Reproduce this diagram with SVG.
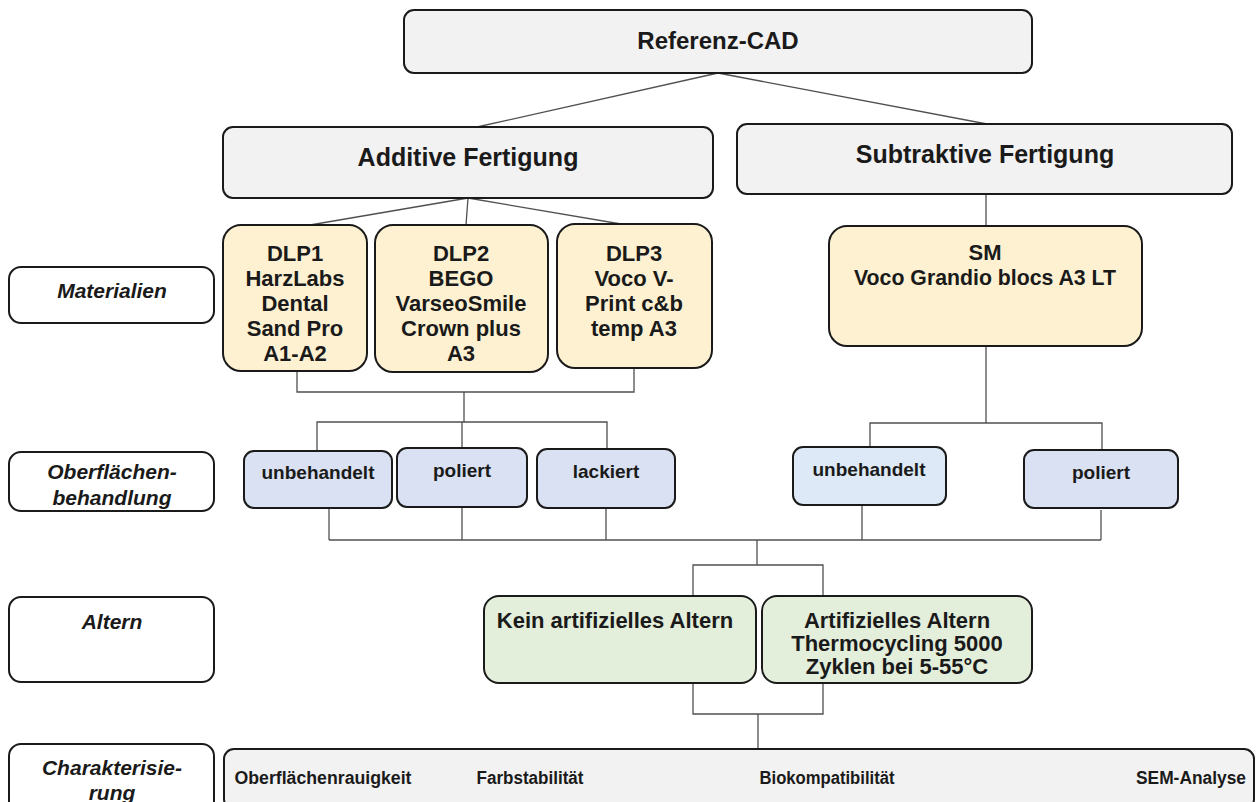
<svg xmlns="http://www.w3.org/2000/svg" width="1257" height="802" viewBox="0 0 1257 802">
<style>
.box{stroke:#1a1a1a;stroke-width:2}
.gray{fill:#f2f2f2}
.yel{fill:#fdf1d2}
.blue{fill:#d9e1f2}
.blue2{fill:#dde9f6}
.green{fill:#e3eedb}
.white{fill:#ffffff}
text{font-family:"Liberation Sans",Arial,sans-serif;font-weight:bold;fill:#1a1a1a;text-anchor:middle}
.lbl{font-style:italic;font-size:21px}
.mat{font-size:22px}
.surf{font-size:19px}
.age{font-size:22px}
.conn{stroke:#505050;stroke-width:1.3;fill:none}
</style>
<rect width="1257" height="802" fill="#ffffff"/>
<g id="connectors">
<line class="conn" x1="718" y1="73" x2="477" y2="127"/>
<line class="conn" x1="718" y1="73" x2="987" y2="124"/>
<line class="conn" x1="468" y1="198" x2="310" y2="225"/>
<line class="conn" x1="468" y1="198" x2="466" y2="225"/>
<line class="conn" x1="468" y1="198" x2="621" y2="224"/>
<line class="conn" x1="986" y1="194" x2="986" y2="226"/>
<polyline class="conn" points="297,371 297,392 634,392 634,368"/>
<line class="conn" x1="464" y1="392" x2="464" y2="422"/>
<polyline class="conn" points="317,451 317,422 607,422 607,449"/>
<line class="conn" x1="462" y1="422" x2="462" y2="448"/>
<line class="conn" x1="986" y1="346" x2="986" y2="423"/>
<polyline class="conn" points="870,447 870,423 1102,423 1102,450"/>
<line class="conn" x1="329" y1="508" x2="329" y2="540"/>
<line class="conn" x1="462" y1="507" x2="462" y2="540"/>
<line class="conn" x1="606" y1="508" x2="606" y2="540"/>
<line class="conn" x1="862" y1="505" x2="862" y2="540"/>
<line class="conn" x1="1101" y1="510" x2="1101" y2="540"/>
<line class="conn" x1="329" y1="540" x2="1101" y2="540"/>
<line class="conn" x1="757" y1="540" x2="757" y2="565"/>
<polyline class="conn" points="693,596 693,565 823,565 823,596"/>
<polyline class="conn" points="693,683 693,714 823,714 823,683"/>
<line class="conn" x1="758" y1="714" x2="758" y2="749"/>
</g>
<g id="referenz-cad">
<rect class="box gray" x="404" y="10" width="628" height="63" rx="10"/>
<text x="718" y="49" font-size="24">Referenz-CAD</text>
</g>
<g id="additive">
<rect class="box gray" x="223" y="127" width="490" height="71" rx="10"/>
<text x="468" y="166" font-size="25">Additive Fertigung</text>
</g>
<g id="subtraktive">
<rect class="box gray" x="737" y="124" width="495" height="70" rx="10"/>
<text x="985" y="163" font-size="25">Subtraktive Fertigung</text>
</g>
<g id="label-materialien">
<rect class="box white" x="9" y="267" width="205" height="56" rx="12"/>
<text class="lbl" x="112" y="298">Materialien</text>
</g>
<g id="label-oberflaeche">
<rect class="box white" x="9" y="452" width="205" height="59" rx="12"/>
<text class="lbl" x="112" y="479">Oberflächen-</text>
<text class="lbl" x="112" y="505">behandlung</text>
</g>
<g id="label-altern">
<rect class="box white" x="9" y="597" width="205" height="85" rx="12"/>
<text class="lbl" x="112" y="629">Altern</text>
</g>
<g id="label-charakterisierung">
<rect class="box white" x="9" y="744" width="205" height="70" rx="12"/>
<text class="lbl" x="112" y="775">Charakterisie-</text>
<text class="lbl" x="112" y="800">rung</text>
</g>
<g id="dlp1">
<rect class="box yel" x="223" y="225" width="144" height="146" rx="18"/>
<text class="mat" x="295" y="261">DLP1</text>
<text class="mat" x="295" y="286">HarzLabs</text>
<text class="mat" x="295" y="311">Dental</text>
<text class="mat" x="295" y="336">Sand Pro</text>
<text class="mat" x="295" y="361">A1-A2</text>
</g>
<g id="dlp2">
<rect class="box yel" x="375" y="225" width="173" height="147" rx="18"/>
<text class="mat" x="461" y="261">DLP2</text>
<text class="mat" x="461" y="286">BEGO</text>
<text class="mat" x="461" y="311">VarseoSmile</text>
<text class="mat" x="461" y="336">Crown plus</text>
<text class="mat" x="461" y="361">A3</text>
</g>
<g id="dlp3">
<rect class="box yel" x="557" y="224" width="155" height="144" rx="18"/>
<text class="mat" x="634" y="261">DLP3</text>
<text class="mat" x="634" y="286">Voco V-</text>
<text class="mat" x="634" y="311">Print c&amp;b</text>
<text class="mat" x="634" y="336">temp A3</text>
</g>
<g id="sm">
<rect class="box yel" x="829" y="226" width="313" height="120" rx="18"/>
<text class="mat" x="985" y="260">SM</text>
<text class="mat" x="985" y="285" textLength="262" lengthAdjust="spacingAndGlyphs">Voco Grandio blocs A3 LT</text>
</g>
<g id="add-unbehandelt">
<rect class="box blue" x="244" y="451" width="148" height="57" rx="10"/>
<text class="surf" x="318" y="479">unbehandelt</text>
</g>
<g id="add-poliert">
<rect class="box blue" x="397" y="448" width="130" height="59" rx="10"/>
<text class="surf" x="462" y="477">poliert</text>
</g>
<g id="add-lackiert">
<rect class="box blue" x="537" y="449" width="138" height="59" rx="10"/>
<text class="surf" x="606" y="478">lackiert</text>
</g>
<g id="sub-unbehandelt">
<rect class="box blue2" x="793" y="447" width="153" height="58" rx="10"/>
<text class="surf" x="869" y="476">unbehandelt</text>
</g>
<g id="sub-poliert">
<rect class="box blue" x="1024" y="450" width="154" height="58" rx="10"/>
<text class="surf" x="1101" y="479">poliert</text>
</g>
<g id="kein-altern">
<rect class="box green" x="484" y="596" width="272" height="87" rx="15"/>
<text class="age" x="615" y="628">Kein artifizielles Altern</text>
</g>
<g id="artifizielles-altern">
<rect class="box green" x="762" y="596" width="270" height="87" rx="15"/>
<text class="age" x="897" y="628">Artifizielles Altern</text>
<text class="age" x="897" y="651">Thermocycling 5000</text>
<text class="age" x="897" y="674">Zyklen bei 5-55°C</text>
</g>
<g id="charakterisierung">
<rect class="box gray" x="224" y="749" width="1030" height="60" rx="10"/>
<text x="323" y="784" font-size="18" textLength="177" lengthAdjust="spacingAndGlyphs">Oberflächenrauigkeit</text>
<text x="530" y="784" font-size="18" textLength="107" lengthAdjust="spacingAndGlyphs">Farbstabilität</text>
<text x="827" y="784" font-size="18" textLength="135" lengthAdjust="spacingAndGlyphs">Biokompatibilität</text>
<text x="1191" y="784" font-size="18" textLength="110" lengthAdjust="spacingAndGlyphs">SEM-Analyse</text>
</g>
</svg>
